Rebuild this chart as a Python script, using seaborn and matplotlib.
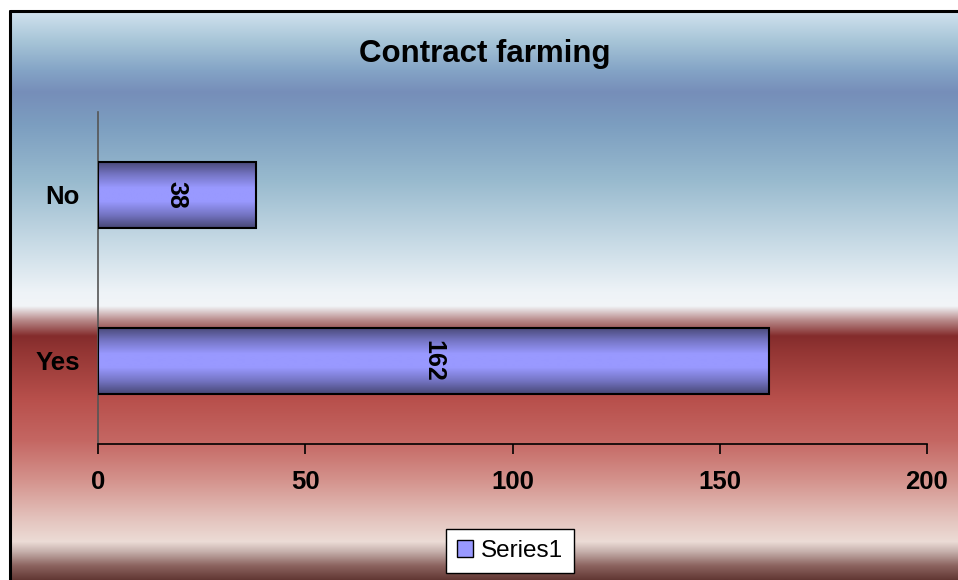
import numpy as np
import pandas as pd
import matplotlib
matplotlib.use("Agg")
import matplotlib.pyplot as plt
from matplotlib.colors import LinearSegmentedColormap
from matplotlib.lines import Line2D
from matplotlib.patches import Patch
import seaborn as sns

# Data
categories = ["No", "Yes"]
values = [38, 162]
series_name = "Series1"
title = "Contract farming"
x_ticks = [0, 50, 100, 150, 200]

sns.set_theme(style="white")
plt.rcParams["font.family"] = ["Liberation Sans", "DejaVu Sans"]
plt.rcParams["text.color"] = "black"
plt.rcParams["xtick.color"] = "black"
plt.rcParams["ytick.color"] = "black"

W, H = 958, 580
fig = plt.figure(figsize=(W / 100, H / 100), dpi=100)
fig.patch.set_facecolor("white")

# Background panel: vertical blue -> white -> red -> pale gradient
bg_left, bg_top = 11, 12
ax_bg = fig.add_axes([bg_left / W, 0, (W - bg_left) / W, (H - bg_top) / H], zorder=-2)
stops = [
    (12, (208, 226, 238)),
    (40, (168, 198, 216)),
    (70, (132, 164, 198)),
    (92, (118, 142, 185)),
    (125, (124, 158, 192)),
    (180, (152, 186, 206)),
    (250, (205, 222, 232)),
    (292, (238, 243, 247)),
    (306, (242, 245, 248)),
    (320, (185, 140, 140)),
    (336, (132, 44, 44)),
    (352, (148, 54, 52)),
    (400, (184, 80, 76)),
    (440, (196, 102, 98)),
    (480, (212, 146, 140)),
    (520, (228, 196, 190)),
    (542, (236, 220, 214)),
    (552, (198, 176, 172)),
    (566, (140, 100, 96)),
    (580, (98, 56, 52)),
]
ys = np.arange(bg_top, H + 1)
grad = np.zeros((len(ys), 1, 3))
sy = np.array([s[0] for s in stops], float)
for c in range(3):
    grad[:, 0, c] = np.interp(ys, sy, [s[1][c] for s in stops]) / 255.0
ax_bg.imshow(grad, aspect="auto", extent=[0, 1, 0, 1], interpolation="bilinear")
ax_bg.set_axis_off()

# Frame lines along the left and top edges of the panel
fig.add_artist(Line2D([10 / W, 10 / W], [0, (H - 11) / H], color="black", lw=2.2))
fig.add_artist(Line2D([9.5 / W, 1], [(H - 11) / H, (H - 11) / H], color="black", lw=2.2))

# Plot area
left, right, top, bottom = 98, 927, 112, 444
ax = fig.add_axes([left / W, (H - bottom) / H, (right - left) / W, (bottom - top) / H])
ax.set_facecolor("none")

df = pd.DataFrame({"category": categories, "value": values})
sns.barplot(data=df, x="value", y="category", orient="h", color="#9999ff",
            width=0.4, edgecolor="black", linewidth=1.5, ax=ax, zorder=3)

# Cylinder-style shading inside each bar
shade = LinearSegmentedColormap.from_list(
    "barshade", ["#474775", "#7575c4", "#9999ff", "#9999ff", "#7575c4", "#474775"])
vgrad = np.linspace(0, 1, 256).reshape(-1, 1)
for patch in ax.patches:
    x0, y0 = patch.get_x(), patch.get_y()
    w, h = patch.get_width(), patch.get_height()
    im = ax.imshow(vgrad, cmap=shade, aspect="auto", extent=[x0, x0 + w, y0 + h, y0],
                   zorder=3.5, interpolation="bilinear")
    im.set_clip_path(patch)
    patch.set_facecolor("none")
    patch.set_zorder(4)
    ax.text(x0 + w / 2, y0 + h / 2, f"{int(round(w))}", rotation=270,
            ha="center", va="center", fontsize=18, fontweight="bold",
            color="black", zorder=5)

ax.set_xlim(0, 200)
ax.set_ylim(1.5, -0.5)
ax.set_xticks(x_ticks)
ax.set_xticklabels([str(t) for t in x_ticks], fontsize=18.5, fontweight="bold")
ax.set_yticks([0, 1])
ax.set_yticklabels(categories, fontsize=18.5, fontweight="bold")
ax.set_xlabel("")
ax.set_ylabel("")
for s in ["top", "right"]:
    ax.spines[s].set_visible(False)
ax.spines["left"].set_color("#555555")
ax.spines["left"].set_linewidth(1.2)
ax.spines["bottom"].set_color("black")
ax.spines["bottom"].set_linewidth(1.2)
ax.tick_params(axis="x", bottom=True, direction="out", length=7, width=1.2,
               color="black", pad=12, labelcolor="black")
ax.tick_params(axis="y", left=False, length=0, pad=13, labelcolor="black")

# Title
fig.text((bg_left + W) / 2 / W, 1 - 54 / H, title, ha="center", va="center",
         fontsize=22.5, fontweight="bold", color="black")

# Legend
handle = Patch(facecolor="#9999ff", edgecolor="black", linewidth=1.0, label=series_name)
leg = fig.legend(handles=[handle], loc="center", bbox_to_anchor=(510 / W, 1 - 551 / H),
                 frameon=True, fancybox=False, fontsize=17.5, handlelength=0.65,
                 handleheight=0.65, handletextpad=0.3, borderpad=0.45,
                 labelcolor="black")
leg.get_frame().set_edgecolor("black")
leg.get_frame().set_linewidth(1.0)
leg.get_frame().set_facecolor("white")
leg.get_frame().set_alpha(1)

fig.savefig("out.png", dpi=100)
